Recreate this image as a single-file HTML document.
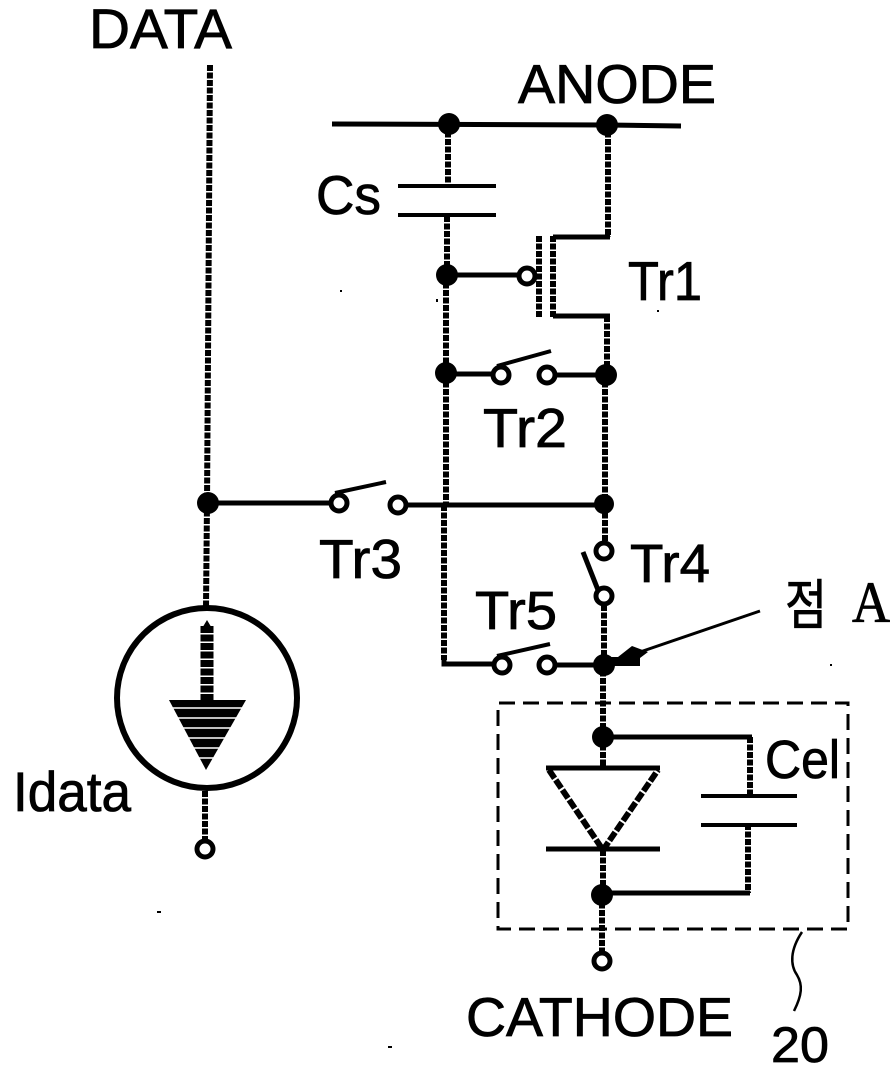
<!DOCTYPE html>
<html><head><meta charset="utf-8">
<style>
html,body{margin:0;padding:0;background:#fff;width:896px;height:1076px;overflow:hidden}
svg{display:block}
text{font-family:"Liberation Sans","Noto Sans CJK KR",sans-serif;fill:#000;stroke:#000;stroke-width:0.8}
.v{stroke:#000;stroke-width:6;stroke-dasharray:6 1.5;fill:none}
.h{stroke:#000;stroke-width:5;fill:none}
.t{stroke:#000;stroke-width:4;fill:none}
.o{stroke:#000;stroke-width:5;fill:#fff}
</style></head><body>
<svg width="896" height="1076" viewBox="0 0 896 1076" xmlns="http://www.w3.org/2000/svg">
<rect width="896" height="1076" fill="#fff"/>
<!-- verticals -->
<path class="v" d="M210 65 L207 503 M207 503 L206 607 M205 791 L205 842"/>
<path class="v" d="M448 124 V184 M447 216 V275 M446 275 V374 M446 374 V505 M444 505 V660"/>
<path class="v" d="M608 124 V237 M607 316 V374 M605 374 V505 M605 505 V542 M604 605 V663 M603 663 V737 M603 737 V768 M603 850 V895 M602 895 V953"/>
<path class="v" d="M750 737 V795 M748 824 V893"/>
<path class="v" d="M539 236 V318"/>
<path class="v" d="M553 236 V318"/>
<path class="v" style="stroke-width:13;stroke-dasharray:7 1.5" d="M207 626 V702"/>
<!-- horizontals -->
<path class="h" d="M332 124 L608 125 L681 126"/>
<path class="t" d="M398 186 H496 M398 215 H496 M701 796 H797 M701 825 H797"/>
<path class="h" d="M553 237 H610 M553 316 H610 M447 275 H520"/>
<path class="h" d="M446 374 H493 M555 375 H606"/>
<path class="h" d="M207 503 H332 M405 505 H605"/>
<path class="h" d="M444 660 V664 H492 M553 665 H605"/>
<path class="h" d="M603 737 H752 M602 893 H750"/>
<path class="h" d="M546 768 H660 M546 849 H660"/>
<!-- switch arms -->
<path class="h" style="stroke-width:4" d="M497 366 L551 351 M335 493 L386 482 M497 656 L550 644"/>
<path class="h" d="M583 552 L598 590"/>
<!-- Tr1 gate bubble -->
<circle class="o" cx="527" cy="276" r="8"/>
<!-- open terminals -->
<circle class="o" cx="501" cy="375" r="8"/>
<circle class="o" cx="547" cy="375" r="8"/>
<circle class="o" cx="339" cy="503" r="8"/>
<circle class="o" cx="398" cy="505" r="8"/>
<circle class="o" cx="604" cy="551" r="8"/>
<circle class="o" cx="604" cy="596" r="8"/>
<circle class="o" cx="502" cy="665" r="8"/>
<circle class="o" cx="547" cy="665" r="8"/>
<circle class="o" cx="205" cy="849" r="8"/>
<circle class="o" cx="602" cy="961" r="8"/>
<!-- junctions -->
<g fill="#000">
<circle cx="449" cy="124" r="11"/><circle cx="607" cy="125" r="11"/>
<circle cx="447" cy="275" r="11"/><circle cx="446" cy="373" r="11"/>
<circle cx="606" cy="375" r="11"/><circle cx="208" cy="503" r="11"/>
<circle cx="604" cy="504" r="10"/><circle cx="604" cy="665" r="11"/>
<circle cx="603" cy="737" r="11"/><circle cx="602" cy="895" r="11"/>
</g>
<!-- current source -->
<circle cx="207" cy="698" r="90" fill="none" stroke="#000" stroke-width="6"/>
<polygon points="169,700 246,700 206,770" fill="#000"/>
<g stroke="#fff" stroke-width="1.5">
<path d="M165 708 H250 M165 718 H250 M165 728 H250 M165 738 H250 M165 748 H250 M165 758 H250"/>
</g>
<polygon points="207,620 201,630 213,630" fill="#000"/>
<!-- diode -->
<path d="M549 770 L603 850 L658 770" fill="none" stroke="#000" stroke-width="6" stroke-dasharray="10 2"/>
<!-- point A arrow -->
<path d="M760 611 L640 652" stroke="#000" stroke-width="3" fill="none"/>
<polygon points="618,657 632,646 648,652 640,658 640,666 605,666 605,657" fill="#000"/>
<!-- dashed box -->
<path d="M499 703 H848 V929 H498 V703" fill="none" stroke="#000" stroke-width="3" stroke-dasharray="16 8"/>
<!-- leader -->
<path d="M802 932 C790 950 790 965 797 975 C803 985 802 995 794 1011" fill="none" stroke="#000" stroke-width="2.5"/>
<!-- specks -->
<g fill="#000">
<rect x="340" y="290" width="2" height="2"/><rect x="436" y="299" width="2" height="3"/>
<rect x="657" y="310" width="2" height="2"/><rect x="157" y="911" width="4" height="2"/>
<rect x="388" y="1046" width="4" height="2"/><rect x="830" y="664" width="2" height="2"/>
</g>
<!-- labels -->
<text x="89" y="48" font-size="56" textLength="143" lengthAdjust="spacingAndGlyphs">DATA</text>
<text x="518" y="103" font-size="55" textLength="198" lengthAdjust="spacingAndGlyphs">ANODE</text>
<text x="316" y="214" font-size="55" textLength="65" lengthAdjust="spacingAndGlyphs">Cs</text>
<text x="628" y="300" font-size="55" textLength="74" lengthAdjust="spacingAndGlyphs">Tr1</text>
<text x="483" y="447" font-size="55" textLength="84" lengthAdjust="spacingAndGlyphs">Tr2</text>
<text x="319" y="578" font-size="55" textLength="83" lengthAdjust="spacingAndGlyphs">Tr3</text>
<text x="630" y="582" font-size="54" textLength="80" lengthAdjust="spacingAndGlyphs">Tr4</text>
<text x="475" y="629" font-size="54" textLength="82" lengthAdjust="spacingAndGlyphs">Tr5</text>
<text x="785" y="624" font-size="54" textLength="42" lengthAdjust="spacingAndGlyphs" style="font-family:'Noto Sans CJK KR',sans-serif">점</text>
<text x="852" y="622" font-size="58" textLength="38" lengthAdjust="spacingAndGlyphs" style="font-family:'Liberation Serif',serif">A</text>
<text x="765" y="778" font-size="54" textLength="75" lengthAdjust="spacingAndGlyphs">Cel</text>
<text x="13" y="811" font-size="56" textLength="118" lengthAdjust="spacingAndGlyphs">Idata</text>
<text x="466" y="1036" font-size="55" textLength="267" lengthAdjust="spacingAndGlyphs">CATHODE</text>
<text x="771" y="1062" font-size="50" textLength="58" lengthAdjust="spacingAndGlyphs">20</text>
</svg>
</body></html>
